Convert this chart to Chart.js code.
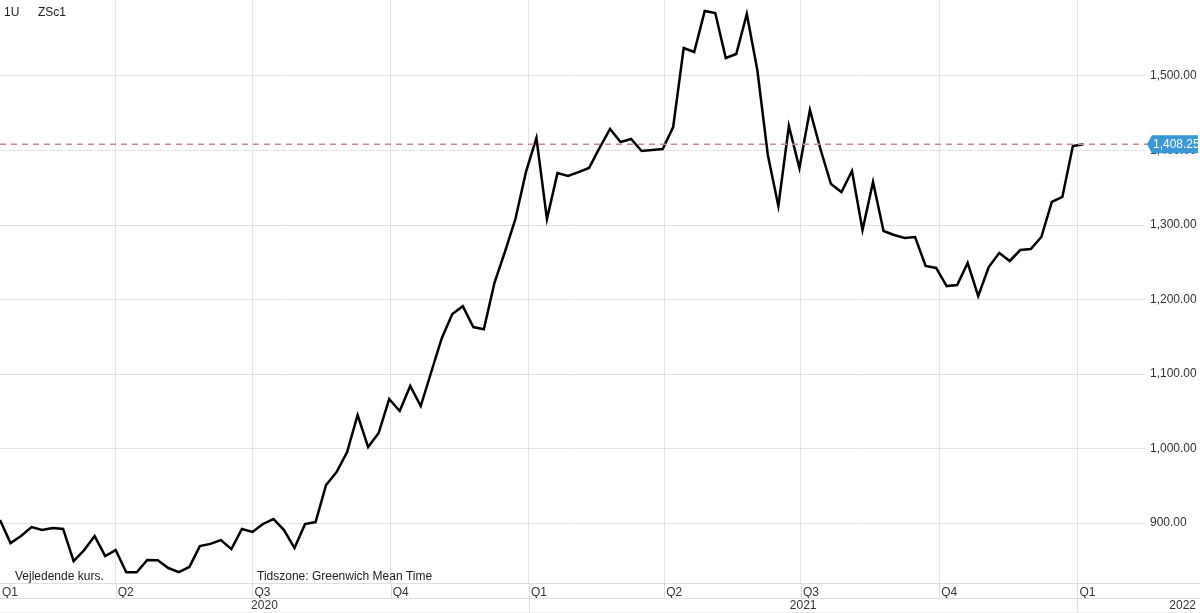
<!DOCTYPE html>
<html><head><meta charset="utf-8">
<script src="https://cdn.jsdelivr.net/npm/chart.js@4"></script>
<style>html,body{margin:0;padding:0;background:#fff}#w{width:1200px;height:613px;position:relative}</style>
</head><body><div id="w"><canvas id="c"></canvas></div>
<script>
// weekly closes, ZSc1 (soybean futures), starting 2020-01-15
const startDate = '2020-01-15';
const prices = [
904,873,882.5,894.6,890.6,893.3,892,849,863.7,882.5,855.7,863.7,834,834,850.3,850,839.6,834,841,869,872,877,865,892,888,898.7,905.4,890.6,866.4,898.7,901.3,951,968.5,995.3,1045,1002,1020.8,1066.4,1050.3,
1084,1057,1102.7,1148,1180.5,1191,1163,1160,1222,1263.8,1308,1371,1416.8,1308,1369.8,1365.8,1371,1376.5,1403.4,1428.9,1411.4,1415.4,1399.3,1400.7,1402,
1431.5,1537.6,1532.2,1587.2,1584.6,1524.2,1529.5,1583.2,1508,1394,1325.5,1432.9,1376.5,1454.4,1402,1355,1344.3,1372.5,1293.3,1357.7,1292,1286.6,1282.5,1283.9,1245,1242.3,1218,1219.5,1249,1204.7,1243.6,1262.4,1251.7,1266.4,1267.8,1283.9,1330.9,1337.6,1406,1408.25];
const lastPrice = 1408.25;
const quarterDays = [14, 91, 182, 274, 366, 456, 547, 639, 731]; // days since 2020-01-01
const quarterLabels = ['Q1','Q2','Q3','Q4','Q1','Q2','Q3','Q4','Q1'];
const years = [{label:'2020', from:14, to:366},{label:'2021', from:366, to:731},{label:'2022', from:731, to:776}];

const d0 = new Date('2020-01-01T00:00:00Z'), ds = new Date(startDate+'T00:00:00Z');
const off = Math.round((ds-d0)/864e5);
const pts = prices.map((v,i)=>({x: off + 7*i, y: v}));
const fmt = v => v.toLocaleString('en-US',{minimumFractionDigits:2,maximumFractionDigits:2});
const FONT = '"Liberation Sans", Arial';

const extra = {
  id:'extra',
  afterDraw(ch){
    const c = ch.ctx, x = ch.scales.x, y = ch.scales.y, a = ch.chartArea;
    c.save();
    const py = y.getPixelForValue(lastPrice);
    c.strokeStyle = '#c98a8e'; c.lineWidth = 1.5; c.setLineDash([6,5]);
    c.beginPath(); c.moveTo(a.left, py); c.lineTo(a.right+3, py); c.stroke();
    c.setLineDash([]);
    c.fillStyle = '#3b98d6';
    c.beginPath(); c.moveTo(a.right+2, py); c.lineTo(a.right+7, py-9); c.lineTo(1198, py-9); c.lineTo(1198, py+9); c.lineTo(a.right+7, py+9); c.closePath(); c.fill();
    c.fillStyle = '#fff'; c.font = '12px '+FONT; c.textBaseline='middle'; c.textAlign='left';
    c.fillText(fmt(lastPrice), a.right+8, py+0.5);
    c.strokeStyle = '#dedede'; c.lineWidth = 1;
    const r1 = a.bottom, r2 = a.bottom+15, r3 = 612.5;
    [r1, r2, r3].forEach(v=>{c.beginPath(); c.moveTo(0, v+0.5); c.lineTo(1200, v+0.5); c.stroke();});
    quarterDays.slice(1).forEach(d=>{const px = Math.round(x.getPixelForValue(d))+0.5; c.beginPath(); c.moveTo(px, r1); c.lineTo(px, r2); c.stroke();});
    [366, 731].forEach(d=>{const px = Math.round(x.getPixelForValue(d))+0.5; c.beginPath(); c.moveTo(px, r2); c.lineTo(px, r3); c.stroke();});
    c.fillStyle = '#333'; c.font = '12px '+FONT; c.textBaseline='middle';
    years.forEach((yr,i)=>{
      if (i===2){ c.textAlign='right'; c.fillText(yr.label, 1196, r2+8); }
      else { c.textAlign='center'; c.fillText(yr.label, x.getPixelForValue((yr.from+yr.to)/2), r2+8); }
    });
    c.textAlign='left'; c.fillStyle='#222'; c.font = '12px '+FONT;
    c.fillText('1U', 4, 13); c.fillText('ZSc1', 38, 13);
    c.fillText('Vejledende kurs.', 15, 577);
    c.fillText('Tidszone: Greenwich Mean Time', 257, 577);
    c.restore();
  }
};

new Chart(document.getElementById('c'), {
  type:'line',
  data:{datasets:[{data:pts, borderColor:'#000', borderWidth:2.5, pointRadius:0, tension:0, fill:false, clip:false}]},
  options:{
    responsive:true, maintainAspectRatio:false, animation:false,
    layout:{padding:0},
    plugins:{legend:{display:false}, tooltip:{enabled:false}},
    scales:{
      x:{type:'linear', min:14, max:776, position:'bottom',
        afterBuildTicks: s => { s.ticks = quarterDays.map(v=>({value:v})); },
        afterFit: s => { s.height = 30; s.paddingLeft = 0; s.paddingRight = 0; },
        grid:{color: ctx => ctx.index===0 ? 'rgba(0,0,0,0)' : '#e3e3e3', drawTicks:false},
        border:{display:false},
        ticks:{align:'start', padding:2, labelOffset:2, autoSkip:false, maxRotation:0, color:'#333', font:{size:12, family:FONT},
          callback:(v,i)=> quarterLabels[i]}
      },
      y:{position:'right', min:819.5, max:1602,
        afterBuildTicks: s => { const t=[]; for(let v=900; v<=1500; v+=100) t.push({value:v}); s.ticks=t; },
        afterFit: s => { s.width = 55; s.paddingTop = 0; s.paddingBottom = 0; },
        grid:{color:'#e3e3e3', drawTicks:false},
        border:{display:false},
        ticks:{padding:5, color:'#333', font:{size:12, family:FONT}, callback: v => fmt(v)}
      }
    }
  },
  plugins:[extra]
});
</script></body></html>
